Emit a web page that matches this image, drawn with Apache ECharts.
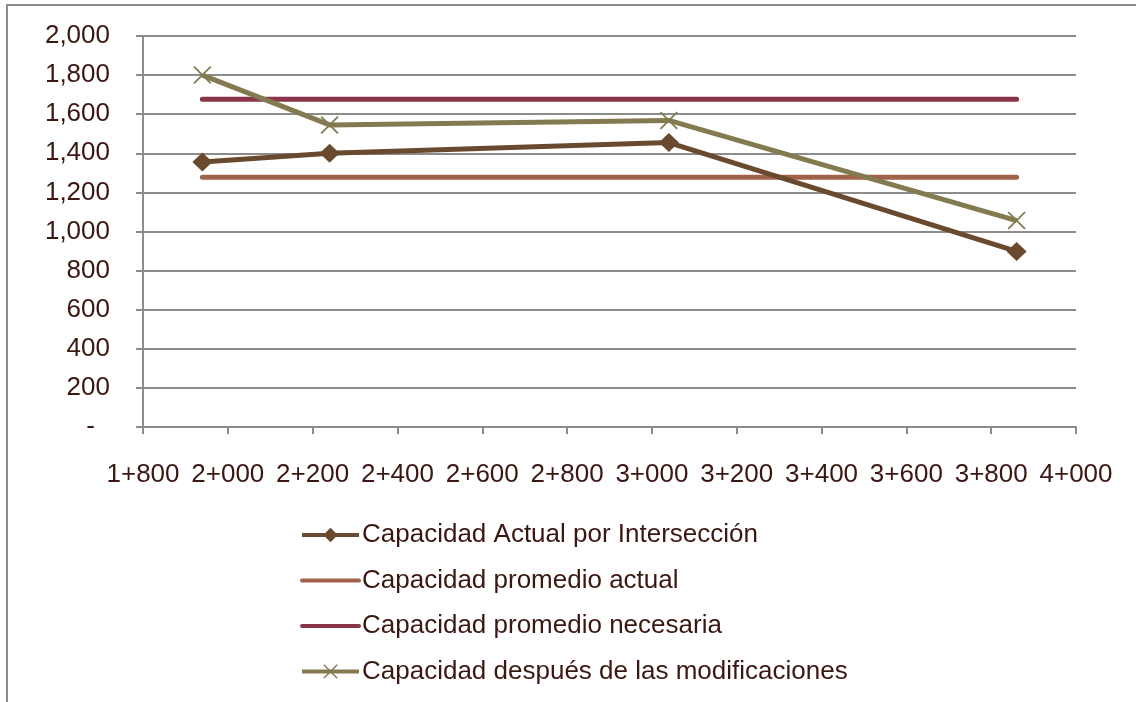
<!DOCTYPE html>
<html>
<head>
<meta charset="utf-8">
<script src="https://cdn.jsdelivr.net/npm/echarts@6/dist/echarts.min.js"></script>
<style>
  html, body { margin: 0; padding: 0; background: #ffffff; }
  #chart { width: 1136px; height: 702px; }
</style>
</head>
<body>
<div id="chart"></div>
<script>
// Station (abscisa) of each intersection, in metres
const stations = [1940, 2240, 3040, 3860];

// Capacity series
const capacidadActual = [1355, 1400, 1455, 898];
const promedioActual = [1277, 1277, 1277, 1277];
const promedioNecesaria = [1677, 1677, 1677, 1677];
const capacidadDespues = [1800, 1545, 1568, 1056];

const seriesNames = [
  'Capacidad Actual por Intersección',
  'Capacidad promedio actual',
  'Capacidad promedio necesaria',
  'Capacidad después de las modificaciones'
];

const textColor = '#3b1711';
const axisGray = '#8c8c8c';
const fontFamily = '"Liberation Sans", Arial, sans-serif';
const fontSize = 26;

const pairs = ys => stations.map((x, i) => [x, ys[i]]);

// Thin filled "x" used as the marker of the last series
const crossSymbol = 'path://M0,0.7L0.7,0L10,9.3L9.3,10ZM9.3,0L10,0.7L0.7,10L0,9.3Z';

function stationLabel(v) {
  const km = Math.floor(v / 1000);
  const m = String(v % 1000).padStart(3, '0');
  return km + '+' + m;
}

const chart = echarts.init(document.getElementById('chart'), null, { renderer: 'canvas' });

chart.setOption({
  backgroundColor: '#ffffff',
  animation: false,
  textStyle: { fontFamily: fontFamily },
  grid: { left: 143, right: 60, top: 36, bottom: 275, containLabel: false },
  graphic: [
    {
      type: 'polyline',
      shape: { points: [[7, 702], [7, 5], [1136, 5]] },
      style: { stroke: axisGray, lineWidth: 2, fill: null },
      z: 0
    }
  ],
  legend: {
    orient: 'vertical',
    left: 300,
    top: 522,
    padding: 0,
    height: 260,
    itemWidth: 57,
    itemHeight: 18,
    itemGap: 19.5,
    lineStyle: { width: 4 },
    textStyle: { color: textColor, fontSize: fontSize, lineHeight: 26, fontFamily: fontFamily, padding: [0, 0, 0, -2] },
    data: [
      { name: seriesNames[0] },
      { name: seriesNames[1], itemStyle: { opacity: 0 } },
      { name: seriesNames[2], itemStyle: { opacity: 0 } },
      { name: seriesNames[3] }
    ]
  },
  xAxis: {
    type: 'value',
    min: 1800,
    max: 4000,
    interval: 200,
    axisLine: { show: true, onZero: false, lineStyle: { color: axisGray, width: 2 } },
    axisTick: { show: true, inside: false, length: 7, lineStyle: { color: axisGray, width: 2 } },
    splitLine: { show: false },
    axisLabel: {
      color: textColor,
      fontSize: fontSize,
      fontFamily: fontFamily,
      margin: 35,
      formatter: stationLabel
    }
  },
  yAxis: {
    type: 'value',
    min: 0,
    max: 2000,
    interval: 200,
    axisLine: { show: true, lineStyle: { color: axisGray, width: 2 } },
    axisTick: { show: true, inside: false, length: 7, lineStyle: { color: axisGray, width: 2 } },
    splitLine: { show: true, lineStyle: { color: axisGray, width: 2 } },
    axisLabel: {
      color: textColor,
      fontSize: fontSize,
      fontFamily: fontFamily,
      margin: 33,
      formatter: v => v === 0 ? '{dash|-}' : v.toLocaleString('en-US'),
      rich: {
        dash: { color: textColor, fontSize: fontSize, fontFamily: fontFamily, padding: [0, 15, 0, 0] }
      }
    }
  },
  series: [
    {
      name: seriesNames[0],
      type: 'line',
      data: pairs(capacidadActual),
      symbol: 'diamond',
      symbolSize: [20, 19],
      lineStyle: { color: '#694a2f', width: 5 },
      itemStyle: { color: '#694a2f' },
      z: 4
    },
    {
      name: seriesNames[1],
      type: 'line',
      data: pairs(promedioActual),
      symbol: 'none',
      lineStyle: { color: '#a2624a', width: 5, cap: 'round' },
      itemStyle: { color: '#a2624a' },
      z: 2
    },
    {
      name: seriesNames[2],
      type: 'line',
      data: pairs(promedioNecesaria),
      symbol: 'none',
      lineStyle: { color: '#8b3549', width: 5, cap: 'round' },
      itemStyle: { color: '#8b3549' },
      z: 2
    },
    {
      name: seriesNames[3],
      type: 'line',
      data: pairs(capacidadDespues),
      symbol: crossSymbol,
      symbolSize: 18,
      lineStyle: { color: '#837a50', width: 5 },
      itemStyle: { color: '#837a50' },
      z: 3
    }
  ]
});
</script>
</body>
</html>
